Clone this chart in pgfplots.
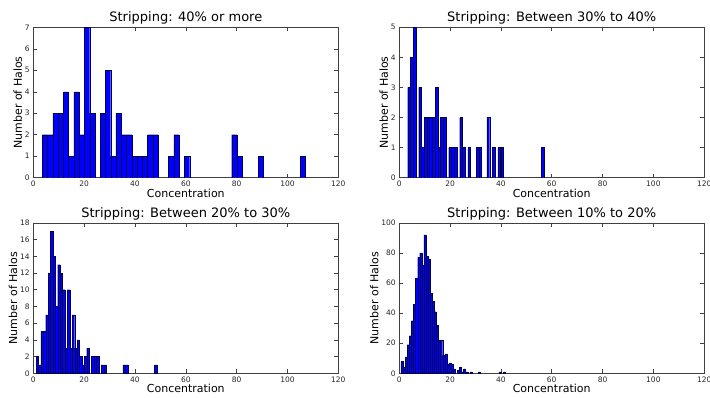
\documentclass[border=0pt]{standalone}
\usepackage{fontspec}
\setmainfont{DejaVu Sans}
\usepackage{pgfplots}
\pgfplotsset{compat=1.18}
\pgfplotsset{
  hist/.style={
    scale only axis, width=305pt, height=150.4pt, anchor=south west,
    xmin=0, xmax=120, ymin=0, xtick={0,20,...,120},
    tick align=inside, tick pos=both, major tick length=4pt,
    axis line style={black!75, line width=0.6pt},
    tick style={black!75, line width=0.5pt},
    ticklabel style={font=\fontsize{7.5}{8}\selectfont, text=black!85},
    /pgf/number format/assume math mode=true,
    xlabel={Concentration}, ylabel={Number of Halos},
    label style={font=\fontsize{11}{12}\selectfont},
    xlabel style={yshift=2.5pt, inner sep=1pt},
    ylabel style={yshift=-4pt},
    title style={font=\fontsize{13}{14}\selectfont, yshift=-6.5pt},
    every axis plot/.append style={ybar, bar shift=0pt, fill=blue, draw=black!70!blue, line width=0.25pt},
  }
}
\begin{document}
\begin{tikzpicture}[x=1pt,y=1pt]
\path[use as bounding box] (0,0) rectangle (710,397);
% Panel 1
\begin{axis}[hist, at={(33.3pt,219.3pt)}, ymax=7, ytick={0,1,...,7}, title={Stripping: 40\% or more}]
\addplot[bar width=2.07] coordinates {(4.58,2)(6.65,2)(8.72,3)(10.79,3)(12.86,4)(14.93,1)(17.00,4)(19.07,2)(21.14,7)(23.21,3)(27.35,3)(29.42,5)(31.49,1)(33.56,3)(35.63,2)(37.70,2)(39.77,1)(41.84,1)(43.91,1)(45.98,2)(48.05,2)(54.26,1)(56.33,2)(60.47,1)(79.10,2)(81.17,1)(89.45,1)(106.01,1)};
\end{axis}
% Panel 2
\begin{axis}[hist, at={(399.2pt,219.3pt)}, ymax=5, ytick={0,1,...,5}, title={Stripping: Between 30\% to 40\%}]
\addplot[bar width=1.075] coordinates {(3.88,3)(4.95,4)(6.03,5)(8.18,3)(9.25,1)(10.33,2)(11.41,2)(12.48,2)(13.56,2)(14.63,3)(15.71,1)(16.78,2)(17.86,2)(20.01,1)(21.08,1)(22.16,1)(24.31,2)(25.39,1)(27.54,1)(30.76,1)(31.84,1)(35.06,2)(37.21,1)(39.37,1)(40.44,1)(56.57,1)};
\end{axis}
% Panel 3
\begin{axis}[hist, at={(33.3pt,23.7pt)}, ymax=18, ytick={0,2,...,18}, title={Stripping: Between 20\% to 30\%}]
\addplot[bar width=0.9505] coordinates {(1.54,2)(2.49,1)(3.44,5)(4.39,5)(5.34,7)(6.29,12)(7.24,17)(8.19,14)(9.14,8)(10.09,13)(11.04,12)(11.99,10)(12.94,3)(13.89,10)(14.84,3)(15.79,7)(16.74,3)(17.69,4)(18.64,2)(19.60,1)(20.55,2)(21.50,3)(23.40,2)(24.35,2)(25.30,2)(27.20,1)(28.15,1)(35.75,1)(36.70,1)(48.11,1)};
\end{axis}
% Panel 4
\begin{axis}[hist, at={(399.2pt,23.7pt)}, ymax=100, ytick={0,20,...,100}, title={Stripping: Between 10\% to 20\%}]
\addplot[bar width=0.82] coordinates {(1.11,8)(1.93,4)(2.75,11)(3.57,19)(4.39,25)(5.21,35)(6.03,46)(6.85,63)(7.67,77)(8.49,80)(9.31,72)(10.13,92)(10.95,78)(11.77,76)(12.59,53)(13.41,48)(14.23,41)(15.05,32)(15.87,22)(16.69,22)(17.51,12)(18.33,13)(19.15,6)(19.97,7)(20.79,6)(21.61,3)(23.25,2)(24.07,4)(24.89,1)(25.71,3)(26.53,1)(28.17,1)(31.45,1)(39.65,1)(41.29,1)};
\end{axis}
\end{tikzpicture}
\end{document}
